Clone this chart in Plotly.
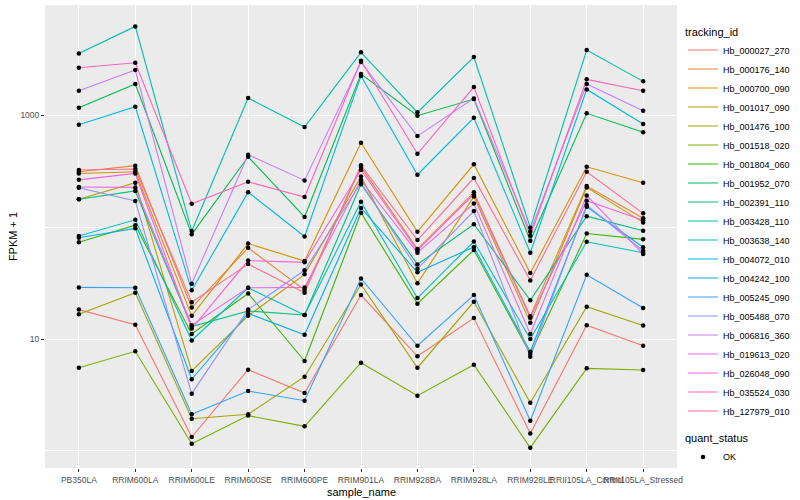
import plotly.graph_objects as go

samples = ["PB350LA", "RRIM600LA", "RRIM600LE", "RRIM600SE", "RRIM600PE",
           "RRIM901LA", "RRIM928BA", "RRIM928LA", "RRIM928LE",
           "RRII105LA_Control", "RRII105LA_Stressed"]

tracking_ids = ["Hb_000027_270", "Hb_000176_140", "Hb_000700_090", "Hb_001017_090",
                "Hb_001476_100", "Hb_001518_020", "Hb_001804_060", "Hb_001952_070",
                "Hb_002391_110", "Hb_003428_110", "Hb_003638_140", "Hb_004072_010",
                "Hb_004242_100", "Hb_005245_090", "Hb_005488_070", "Hb_006816_360",
                "Hb_019613_020", "Hb_026048_090", "Hb_035524_030", "Hb_127979_010"]

# FPKM + 1 per sample
Hb_000027_270 = [18.3, 13.4, 1.33, 5.32, 3.29, 24.7, 7.01, 15.4, 1.43, 13.3, 8.71]
Hb_000176_140 = [312, 353, 19.1, 65.2, 27.4, 345, 63.6, 204, 16.0, 232, 120]
Hb_000700_090 = [301, 312, 16.1, 71.2, 49.7, 566, 90.8, 363, 38.8, 345, 249]
Hb_001017_090 = [177, 249, 5.18, 16.1, 37.8, 282, 31.4, 187, 14.0, 226, 110]
Hb_001476_100 = [16.6, 25.9, 1.94, 2.13, 4.61, 30.7, 5.54, 21.5, 2.70, 19.4, 13.2]
Hb_001518_020 = [5.54, 7.77, 1.16, 2.07, 1.66, 6.14, 3.12, 5.90, 1.07, 5.47, 5.29]
Hb_001804_060 = [73.0, 104, 11.1, 25.5, 6.36, 134, 20.7, 62.3, 7.35, 87.5, 77.6]
Hb_001952_070 = [1161, 1892, 86.1, 424, 123, 2323, 986, 1389, 75.5, 1036, 701]
Hb_002391_110 = [177, 210, 12.9, 17.8, 16.4, 241, 46.4, 106, 22.2, 125, 92.7]
Hb_003428_110 = [3556, 6194, 92.1, 1419, 781, 3631, 1057, 3296, 98.6, 3802, 2000]
Hb_003638_140 = [83.2, 116, 9.7, 28.7, 16.4, 168, 23.2, 74.2, 10.0, 73.9, 59.0]
Hb_004072_010 = [819, 1186, 27.2, 205, 82.3, 2229, 293, 946, 59.0, 1695, 831]
Hb_004242_100 = [80.2, 97.3, 4.37, 16.9, 10.9, 148, 39.4, 66.3, 7.7, 152, 65.9]
Hb_005245_090 = [28.9, 28.7, 2.13, 3.43, 2.81, 34.7, 8.71, 24.7, 1.86, 37.4, 18.9]
Hb_005488_070 = [224, 171, 3.25, 18.3, 41.1, 249, 42.2, 139, 6.95, 157, 61.1]
Hb_006816_360 = [1648, 2523, 31.2, 442, 261, 2972, 649, 1409, 90.8, 1892, 1092]
Hb_019613_020 = [228, 226, 13.3, 28.7, 28.9, 263, 59.0, 162, 11.1, 191, 57.4]
Hb_026048_090 = [264, 301, 12.4, 50.2, 48.4, 323, 61.7, 196, 15.5, 172, 115]
Hb_035524_030 = [2644, 2931, 161.5, 253.6, 185.3, 3055, 451, 1778, 83.6, 2084, 1648]
Hb_127979_010 = [323, 330, 21.3, 46.7, 25.9, 356, 76.5, 274, 33.3, 312, 132.5]

series = [Hb_000027_270, Hb_000176_140, Hb_000700_090, Hb_001017_090, Hb_001476_100,
          Hb_001518_020, Hb_001804_060, Hb_001952_070, Hb_002391_110, Hb_003428_110,
          Hb_003638_140, Hb_004072_010, Hb_004242_100, Hb_005245_090, Hb_005488_070,
          Hb_006816_360, Hb_019613_020, Hb_026048_090, Hb_035524_030, Hb_127979_010]

colors = ["#F8766D", "#EA8331", "#D89000", "#C09B00", "#A3A500", "#7CAE00", "#39B600",
          "#00BB4E", "#00BF7D", "#00C1A3", "#00BFC4", "#00BAE0", "#00B0F6", "#35A2FF",
          "#9590FF", "#C77CFF", "#E76BF3", "#FA62DB", "#FF62BC", "#FF6C91"]

quant_status = "OK"

fig = go.Figure()
for name, vals, col in zip(tracking_ids, series, colors):
    fig.add_trace(go.Scatter(x=samples, y=vals, mode="lines", name=name,
                             line=dict(color=col, width=1.1), legend="legend"))

all_x, all_y = [], []
for vals in series:
    all_x.extend(samples)
    all_y.extend(vals)
fig.add_trace(go.Scatter(x=all_x, y=all_y, mode="markers", name=quant_status,
                         marker=dict(color="black", size=4.5, symbol="circle"),
                         legend="legend2"))

fig.update_layout(
    width=800, height=500,
    margin=dict(l=45, r=117, t=5, b=32),
    paper_bgcolor="white", plot_bgcolor="#EBEBEB",
    font=dict(family="Liberation Sans, Arial, sans-serif", size=11, color="black"),
    legend=dict(title=dict(text="tracking_id", font=dict(size=11)),
                font=dict(size=9, color="black"), x=1.0095, xanchor="left",
                y=0.965, yanchor="top", itemwidth=30, tracegroupgap=0,
                bgcolor="rgba(0,0,0,0)"),
    legend2=dict(title=dict(text="quant_status", font=dict(size=11)),
                 font=dict(size=9, color="black"), x=1.0095, xanchor="left",
                 y=0.086, yanchor="top", itemwidth=30, bgcolor="rgba(0,0,0,0)"),
    xaxis=dict(type="category", categoryorder="array", categoryarray=samples,
               range=[-0.6, 10.6], tickangle=0, tickfont=dict(size=8.5, color="#4D4D4D"),
               showgrid=True, gridcolor="white", gridwidth=1.1, zeroline=False,
               ticks="outside", ticklen=3, tickcolor="#333333", showline=False,
               ticklabelstandoff=1),
    yaxis=dict(title=dict(text="FPKM + 1", font=dict(size=11), standoff=0),
               type="log", range=[-0.152, 3.983],
               tickmode="array", tickvals=[10, 1000], ticktext=["10", "1000"],
               tickfont=dict(size=8.5, color="#4D4D4D"),
               showgrid=True, gridcolor="white", gridwidth=1.1, zeroline=False,
               ticks="outside", ticklen=3, tickcolor="#333333", showline=False,
               minor=dict(tickvals=[1, 100, 10000], showgrid=True, gridcolor="white",
                          gridwidth=0.5, ticks="")),
    annotations=[dict(text="sample_name", xref="paper", yref="paper", x=0.5, y=0,
                      yanchor="top", yshift=-16, showarrow=False,
                      font=dict(size=11, color="black"))],
)

fig.write_html("out.html", config={"displayModeBar": False},
               post_script="document.body.style.margin='0';")
